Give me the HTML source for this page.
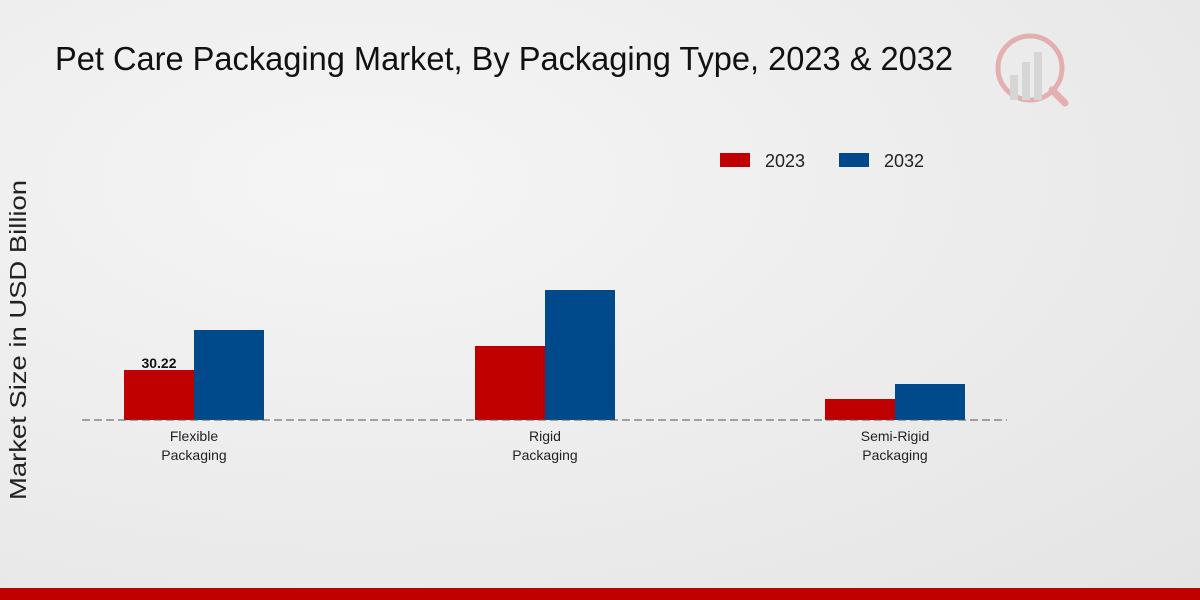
<!DOCTYPE html>
<html><head><meta charset="utf-8"><style>
html,body{margin:0;padding:0}
body{width:1200px;height:600px;overflow:hidden;background:radial-gradient(ellipse at 30% 30%,#f5f5f5 0%,#ebebeb 60%,#e4e4e4 100%);font-family:"Liberation Sans",sans-serif}
</style></head><body>
<svg width="1200" height="600" xmlns="http://www.w3.org/2000/svg" style="position:absolute;left:0;top:0">
<text x="55" y="70" font-size="33" fill="#111" textLength="898" lengthAdjust="spacingAndGlyphs" font-family="Liberation Sans Narrow, Liberation Sans, sans-serif">Pet Care Packaging Market, By Packaging Type, 2023 &amp; 2032</text>
<g opacity="0.25">
<circle cx="1030" cy="68" r="32" fill="none" stroke="#c00" stroke-width="5"/>
<rect x="1010" y="75" width="8" height="25" fill="#999"/>
<rect x="1022" y="62" width="8" height="38" fill="#999"/>
<rect x="1034" y="52" width="8" height="48" fill="#999"/>
<line x1="1052" y1="90" x2="1065" y2="103" stroke="#c00" stroke-width="7" stroke-linecap="round"/>
</g>
<rect x="720" y="153" width="30" height="14" fill="#c00000"/>
<text x="765" y="167" font-size="18" fill="#222">2023</text>
<rect x="839" y="153" width="30" height="14" fill="#004a8c"/>
<text x="884" y="167" font-size="18" fill="#222">2032</text>
<text transform="translate(26,340) rotate(-90)" text-anchor="middle" font-size="23" fill="#222" textLength="320" lengthAdjust="spacingAndGlyphs">Market Size in USD Billion</text>
<rect x="124" y="370" width="70" height="50" fill="#c00000"/>
<rect x="194" y="330" width="70" height="90" fill="#004a8c"/>
<rect x="475" y="346" width="70" height="74" fill="#c00000"/>
<rect x="545" y="290" width="70" height="130" fill="#004a8c"/>
<rect x="825" y="399" width="70" height="21" fill="#c00000"/>
<rect x="895" y="384" width="70" height="36" fill="#004a8c"/>
<line x1="82" y1="420" x2="1007" y2="420" stroke="#555" stroke-width="1" stroke-dasharray="8,4"/>
<text x="159" y="368" text-anchor="middle" font-size="14" font-weight="bold" fill="#111">30.22</text>
<g font-size="14" fill="#222" text-anchor="middle">
<text x="194" y="441">Flexible</text><text x="194" y="460">Packaging</text>
<text x="545" y="441">Rigid</text><text x="545" y="460">Packaging</text>
<text x="895" y="441">Semi-Rigid</text><text x="895" y="460">Packaging</text>
</g>
<rect x="0" y="588" width="1200" height="12" fill="#c00000"/>
</svg>
</body></html>
